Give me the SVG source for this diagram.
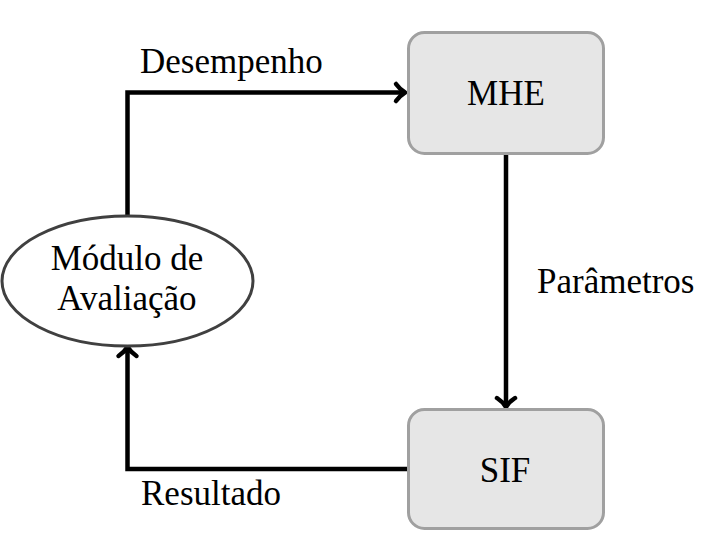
<svg xmlns="http://www.w3.org/2000/svg" width="714" height="536" viewBox="0 0 714 536">
<style>
text{font-family:"Liberation Serif","Times New Roman",serif;font-size:35px;fill:#000}
.box{fill:#e6e6e6;stroke:#a0a0a0;stroke-width:3}
.ell{fill:#fff;stroke:#404040;stroke-width:3}
.conn{fill:none;stroke:#000;stroke-width:4.5}
.head{fill:none;stroke:#000;stroke-width:4.5;stroke-linecap:round;stroke-linejoin:round}
</style>
<rect width="714" height="536" fill="#fff"/>
<g id="connectors">
<path class="conn" d="M127.5,216 V92.5 H403"/>
<path class="head" d="M396,84 Q400,89.5 405,92.5 Q400,95.5 396,101"/>
<path class="conn" d="M506,155 V405"/>
<path class="head" d="M497,398 Q503,402 506,407 Q509,402 515,398"/>
<path class="conn" d="M408,469 H127.5 V349"/>
<path class="head" d="M118.5,356 Q124.5,352 127.5,347 Q130.5,352 136.5,356"/>
<text x="140" y="73">Desempenho</text>
<text x="537" y="293">Parâmetros</text>
<text x="141" y="505">Resultado</text>
</g>
<g id="mhe">
<rect class="box" x="408.5" y="32.5" width="195" height="121" rx="16"/>
<text x="506" y="105" text-anchor="middle">MHE</text>
</g>
<g id="sif">
<rect class="box" x="408.5" y="409.5" width="195" height="119" rx="16"/>
<text x="505" y="482" text-anchor="middle">SIF</text>
</g>
<g id="modulo">
<ellipse class="ell" cx="127.5" cy="281" rx="125.5" ry="65"/>
<text x="127" y="270" text-anchor="middle">Módulo de</text>
<text x="127" y="310" text-anchor="middle">Avaliação</text>
</g>
</svg>
